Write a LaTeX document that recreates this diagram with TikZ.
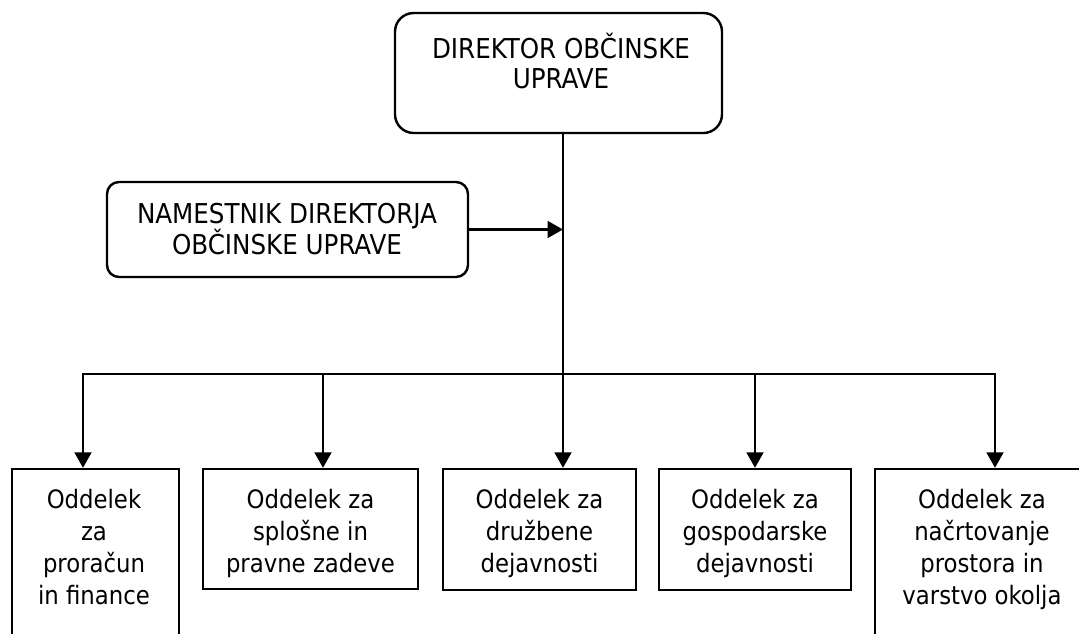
\documentclass[tikz,border=0pt]{standalone}
\usepackage{fontspec}
\setmainfont{DejaVu Sans Condensed}
\usetikzlibrary{arrows.meta,fit}
% fixed height for the first line of each label
\newcommand\lnstrut{\rule{0pt}{1em}}
\begin{document}
\begin{tikzpicture}[x=0.75pt,y=-0.75pt,
  line width=1.8pt,
  box/.style={draw, line width=1.8pt, inner sep=0pt},
  rbox/.style={box, rounded corners=#1},
  lbl/.style={inner sep=0pt, align=center, anchor=north,
    font=\fontsize{19}{#1}\selectfont},
  lbl/.default=24pt,
  caps/.style={inner sep=0pt, align=center, anchor=north,
    font=\fontsize{20.5}{#1}\selectfont},
  link/.style={-{Triangle[length=11.5pt,width=12.5pt]}, line width=1.8pt}]
\useasboundingbox (0,0) rectangle (1079,633);
\begin{scope}
\clip (0,0) rectangle (1079,633);

% management
\node[rbox=14pt, fit={(395,13) (722,133)}] (dir) {};
\node[caps=22pt] (dirtxt) at (561,30.2) {\lnstrut DIREKTOR OBČINSKE\\UPRAVE};

\node[rbox=9pt, fit={(107,182) (468,277)}] (dep) {};
\node[caps=23.5pt] (deptxt) at (287,194.7) {\lnstrut NAMESTNIK DIREKTORJA\\OBČINSKE UPRAVE};

% departments
\node[box, fit={(12,469) (179,660)}] (b1) {};
\node[box, fit={(203,469) (418,589)}] (b2) {};
\node[box, fit={(443,469) (636,590)}] (b3) {};
\node[box, fit={(659,469) (851,590)}] (b4) {};
\node[box, fit={(875,469) (1089,660)}] (b5) {};

\node[lbl] (t1) at (94,481.7) {\lnstrut Oddelek\\za\\proračun\\in finance};
\node[lbl] (t2) at (310.5,481.7) {\lnstrut Oddelek za\\splošne in\\pravne zadeve};
\node[lbl] (t3) at (539.5,481.7) {\lnstrut Oddelek za\\družbene\\dejavnosti};
\node[lbl] (t4) at (755,481.7) {\lnstrut Oddelek za\\gospodarske\\dejavnosti};
\node[lbl] (t5) at (982,481.7) {\lnstrut Oddelek za\\načrtovanje\\prostora in\\varstvo okolja};

% branch points on the distribution bar
\coordinate (hub) at (563,374);
\coordinate (j1) at (83,374);
\coordinate (j2) at (323,374);
\coordinate (j4) at (755,374);
\coordinate (j5) at (995,374);

% connectors
\draw[link] (dir.south -| hub) -- (hub |- b3.north);
\draw[link] (dep.east) -- (dep.east -| hub);
\draw[link] (hub) -- (j1) -- (j1 |- b1.north);
\draw[link] (hub) -- (j5) -- (j5 |- b5.north);
\draw[link] (j2) -- (j2 |- b2.north);
\draw[link] (j4) -- (j4 |- b4.north);
\end{scope}
\end{tikzpicture}
\end{document}
